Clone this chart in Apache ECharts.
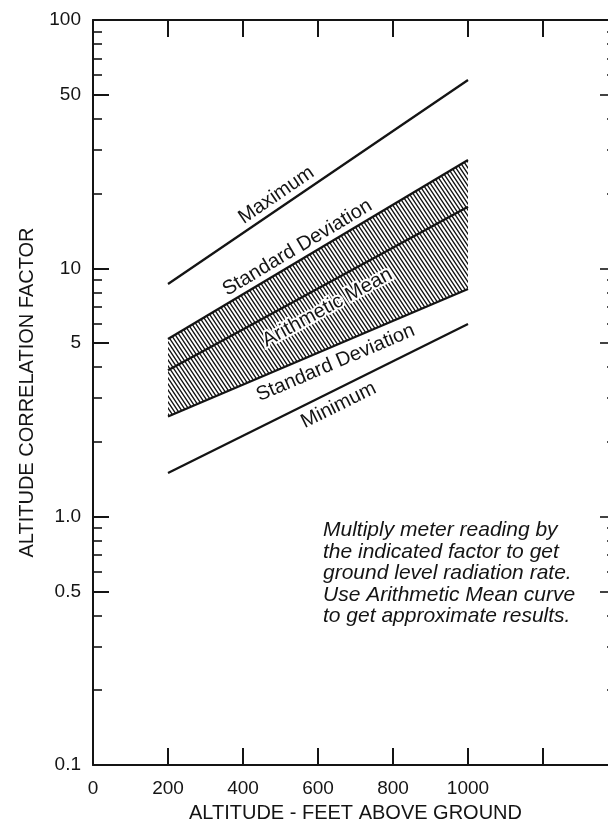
<!DOCTYPE html>
<html><head><meta charset="utf-8">
<script src="https://cdn.jsdelivr.net/npm/echarts@6/dist/echarts.min.js"></script>
<style>html,body{margin:0;padding:0;background:#fff}#c{width:608px;height:824px}</style>
</head><body><div id="c"></div>
<script>
// ---- data ----
const altitude = [200, 1000];
const maximum  = [8.65, 57.3];
const sdUpper  = [5.19, 27.3];
const mean     = [3.89, 17.7];
const sdLower  = [2.53, 8.26];
const minimum  = [1.50, 5.97];

const xTicks      = [0, 200, 400, 600, 800, 1000, 1200, 1400];
const xTickLabels = ['0', '200', '400', '600', '800', '1000', '', ''];
const yMajorTicks = [0.1, 0.5, 1, 5, 10, 50, 100];
const yTickLabels = ['0.1', '0.5', '1.0', '5', '10', '50', '100'];
const yMinorTicks = [0.2, 0.3, 0.4, 0.6, 0.7, 0.8, 0.9, 2, 3, 4, 6, 7, 8, 9, 20, 30, 40, 60, 70, 80, 90];

const curveNames     = ['Maximum', 'Standard Deviation', 'Arithmetic Mean', 'Standard Deviation', 'Minimum'];
const labelAltitude  = [489, 545, 625, 647, 655];
const labelFactor    = [19.7, 12.1, 6.95, 4.16, 2.81];

const noteLines = [
  'Multiply meter reading by',
  'the indicated factor to get',
  'ground level radiation rate.',
  'Use Arithmetic Mean curve',
  'to get approximate results.'
];

// ---- styling ----
const INK = '#141414';
const FONT = '"Liberation Sans", Arial, Helvetica, sans-serif';
const curves = [maximum, sdUpper, mean, sdLower, minimum];

function hatchCanvas() {
  const c = document.createElement('canvas');
  c.width = 4; c.height = 6;
  const g = c.getContext('2d');
  g.strokeStyle = INK; g.lineWidth = 1.35;
  g.beginPath();
  for (let k = -3; k <= 3; k++) { g.moveTo(k * 4 - 4, -6); g.lineTo(k * 4 + 8, 12); }
  g.stroke();
  return c;
}
const hatch = hatchCanvas();
const lg = v => Math.log10(v);

function yAxisDecor(position, ticks, len, withLabels) {
  return {
    type: 'value', min: -1, max: 2, position: position, offset: 0,
    axisLine: { show: false },
    axisTick: { show: true, inside: true, length: len, customValues: ticks.map(lg),
                lineStyle: { color: INK, width: withLabels ? 2 : 1.6 } },
    axisLabel: withLabels ? {
      show: true, customValues: yMajorTicks.map(lg), margin: 12, color: INK,
      fontSize: 19, fontFamily: FONT,
      formatter: v => { const i = yMajorTicks.findIndex(t => Math.abs(lg(t) - v) < 1e-6); return i >= 0 ? yTickLabels[i] : ''; }
    } : { show: false },
    splitLine: { show: false }
  };
}

const chart = echarts.init(document.getElementById('c'), null, { renderer: 'canvas' });

// annotation (graphic text lines)
const noteFont = 'italic 21px ' + FONT;
const graphics = noteLines.map((t, i) => ({
  type: 'text', left: 323, top: 520 + i * 21.5,
  style: { text: t, font: noteFont, fill: INK }
}));

const lineSeries = curves.map((arr, k) => ({
  type: 'line', xAxisIndex: 0, yAxisIndex: 0, z: 3,
  data: altitude.map((a, i) => [a, arr[i]]),
  symbol: 'none', silent: true,
  lineStyle: { color: INK, width: 2.3 }
}));

const xAxisCommon = {
  type: 'value', min: 0, max: 1400, interval: 200,
  axisLine: { onZero: false, lineStyle: { color: INK, width: 2 } },
  axisTick: { inside: true, length: 17, lineStyle: { color: INK, width: 2 } },
  splitLine: { show: false }
};

chart.setOption({
  backgroundColor: '#fff',
  animation: false,
  grid: { left: 93, top: 20, width: 525, height: 745, outerBoundsMode: 'none', containLabel: false },
  xAxis: [
    Object.assign({}, xAxisCommon, {
      position: 'bottom',
      axisLabel: { margin: 14, color: INK, fontSize: 19, fontFamily: FONT,
                   formatter: v => { const i = xTicks.indexOf(v); return i >= 0 ? xTickLabels[i] : ''; } },
      name: 'ALTITUDE - FEET ABOVE GROUND', nameLocation: 'middle', nameGap: 38,
      nameTextStyle: { color: INK, fontSize: 20, fontFamily: FONT } }),
    Object.assign({}, xAxisCommon, { position: 'top', axisLabel: { show: false } })
  ],
  yAxis: [
    { type: 'log', logBase: 10, min: 0.1, max: 100, position: 'left',
      axisLine: { show: true, onZero: false, lineStyle: { color: INK, width: 2 } },
      axisTick: { show: false }, axisLabel: { show: false }, splitLine: { show: false },
      name: 'ALTITUDE CORRELATION FACTOR', nameLocation: 'middle', nameGap: 56,
      nameTextStyle: { color: INK, fontSize: 20, fontFamily: FONT } },
    yAxisDecor('left', yMajorTicks, 16, true),
    yAxisDecor('left', yMinorTicks, 9, false),
    yAxisDecor('right', yMajorTicks, 18, false),
    yAxisDecor('right', yMinorTicks, 11, false)
  ],
  graphic: graphics,
  series: [
    { type: 'custom', xAxisIndex: 0, yAxisIndex: 0, z: 1, silent: true,
      data: [[altitude[0], sdUpper[0]]],
      renderItem: (params, api) => {
        const pts = [];
        altitude.forEach((a, i) => pts.push(api.coord([a, sdUpper[i]])));
        for (let i = altitude.length - 1; i >= 0; i--) pts.push(api.coord([altitude[i], sdLower[i]]));
        return { type: 'polygon', shape: { points: pts },
                 style: { fill: { image: hatch, repeat: 'repeat' }, stroke: null } };
      } },
    ...lineSeries,
    { type: 'custom', xAxisIndex: 0, yAxisIndex: 0, z: 5, silent: true,
      data: curveNames.map((n, i) => [labelAltitude[i], labelFactor[i], i]),
      renderItem: (params, api) => {
        const k = api.value(2);
        const arr = curves[k], n = altitude.length - 1;
        const a = api.coord([altitude[0], arr[0]]);
        const b = api.coord([altitude[n], arr[n]]);
        const ang = Math.atan2(a[1] - b[1], b[0] - a[0]);
        const c = api.coord([api.value(0), api.value(1)]);
        return { type: 'text', x: c[0], y: c[1], rotation: ang,
                 style: { text: curveNames[k], font: '20px ' + FONT, fill: INK,
                          align: 'center', verticalAlign: 'middle',
                          stroke: k === 2 ? '#fff' : null, lineWidth: k === 2 ? 4 : 0, strokeFirst: true } };
      } }
  ]
});
</script>
</body></html>
